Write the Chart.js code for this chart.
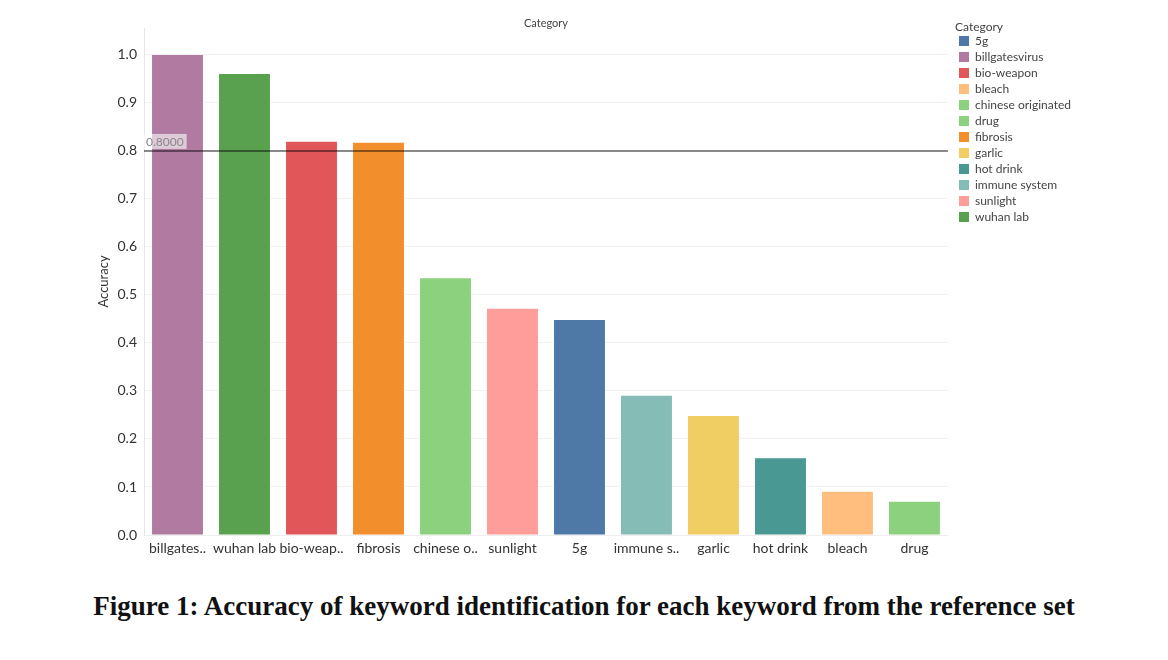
<!DOCTYPE html>
<html>
<head>
<meta charset="utf-8">
<script src="https://cdn.jsdelivr.net/npm/chart.js@4"></script>
<style>
  body { margin: 0; background: #fff; width: 1168px; height: 660px; position: relative; overflow: hidden; }
  #wrap { position: absolute; left: 0; top: 0; width: 1168px; height: 575px; }
  #caption { position: absolute; left: 0; width: 1168px; top: 591px; text-align: center;
    font-family: "Liberation Serif", serif; font-weight: bold; font-size: 27px; color: #111; line-height: 30px; }
</style>
</head>
<body>
<div id="wrap"><canvas id="chart" width="1168" height="575"></canvas></div>
<div id="caption">Figure 1: Accuracy of keyword identification for each keyword from the reference set</div>
<script>
const categories = ['billgatesvirus', 'wuhan lab', 'bio-weapon', 'fibrosis', 'chinese originated', 'sunlight', '5g', 'immune system', 'garlic', 'hot drink', 'bleach', 'drug'];
const tickLabels = ['billgates..', 'wuhan lab', 'bio-weap..', 'fibrosis', 'chinese o..', 'sunlight', '5g', 'immune s..', 'garlic', 'hot drink', 'bleach', 'drug'];
const accuracy = [1.0, 0.96, 0.819, 0.817, 0.535, 0.471, 0.448, 0.290, 0.248, 0.160, 0.090, 0.069];
const referenceValue = 0.8;

// legend order (alphabetical, like the source)
const legendNames = ['5g', 'billgatesvirus', 'bio-weapon', 'bleach', 'chinese originated', 'drug', 'fibrosis', 'garlic', 'hot drink', 'immune system', 'sunlight', 'wuhan lab'];
const palette = {
    '5g': '#4e79a7',
    'billgatesvirus': '#b07aa1',
    'bio-weapon': '#e15759',
    'bleach': '#ffbe7d',
    'chinese originated': '#8cd17d',
    'drug': '#8cd17d',
    'fibrosis': '#f28e2b',
    'garlic': '#f1ce63',
    'hot drink': '#499894',
    'immune system': '#86bcb6',
    'sunlight': '#ff9d9a',
    'wuhan lab': '#59a14f'
};

const FONT = 'Lato, "Noto Sans", sans-serif';

// reference line at 0.8 with its label box
const refLine = {
    id: 'refLine',
    afterDatasetsDraw(chart) {
        const { ctx, chartArea } = chart;
        const y = chart.scales.y.getPixelForValue(referenceValue);
        ctx.save();
        ctx.strokeStyle = 'rgba(0,0,0,0.45)';
        ctx.lineWidth = 2;
        ctx.beginPath();
        ctx.moveTo(chartArea.left, y);
        ctx.lineTo(chartArea.right, y);
        ctx.stroke();
        ctx.font = '12px ' + FONT;
        const txt = referenceValue.toFixed(4);
        const w = ctx.measureText(txt).width;
        ctx.fillStyle = 'rgba(255,255,255,0.6)';
        ctx.fillRect(chartArea.left, y - 17, w + 5, 15);
        ctx.fillStyle = '#888';
        ctx.textBaseline = 'middle';
        ctx.fillText(txt, chartArea.left + 2, y - 9);
        ctx.restore();
    }
};

new Chart(document.getElementById('chart').getContext('2d'), {
    type: 'bar',
    data: {
        labels: tickLabels,
        datasets: [{
            label: 'Accuracy',
            data: accuracy,
            backgroundColor: categories.map(c => palette[c]),
            barPercentage: 0.76,
            categoryPercentage: 1.0
        }]
    },
    options: {
        responsive: false,
        animation: false,
        layout: { padding: { left: 96, right: 87, top: 17, bottom: 10 } },
        scales: {
            x: {
                grid: { display: false, drawTicks: false, tickLength: 0 },
                border: { color: '#eeeeee' },
                ticks: { color: '#333', font: { family: FONT, size: 14 }, padding: 5, maxRotation: 0, autoSkip: false },
                afterFit(scale) { scale.height = 30; }
            },
            xTop: {
                type: 'category',
                position: 'top',
                labels: tickLabels,
                grid: { display: false, drawTicks: false, tickLength: 0 },
                border: { display: false },
                ticks: { display: false },
                title: { display: true, text: 'Category', color: '#444', font: { family: FONT, size: 11 }, padding: { top: 0, bottom: 0 } },
                afterFit(scale) { scale.height = 11; }
            },
            y: {
                min: 0,
                max: 1.056,
                ticks: { stepSize: 0.1, includeBounds: false, color: '#333', font: { family: FONT, size: 14 }, padding: 7,
                    callback: v => v.toFixed(1) },
                grid: { color: '#f2f2f2', drawTicks: false },
                border: { color: '#e6e6e6' },
                title: { display: true, text: 'Accuracy', color: '#333', font: { family: FONT, size: 13 }, padding: 0 },
                afterFit(scale) { scale.width = 48; }
            },
            // empty spacer between the plot and the legend
            ySpacer: {
                type: 'linear',
                position: 'right',
                grid: { display: false, drawTicks: false },
                border: { display: false },
                ticks: { display: false },
                afterFit(scale) { scale.width = 7; }
            }
        },
        plugins: {
            tooltip: { enabled: false },
            legend: {
                position: 'right',
                align: 'start',
                title: { display: true, position: 'start', text: 'Category', color: '#444',
                    font: { family: FONT, size: 12, lineHeight: 1 }, padding: { top: 4, bottom: -2 } },
                labels: {
                    boxWidth: 10,
                    boxHeight: 10,
                    padding: 4,
                    color: '#555',
                    font: { family: FONT, size: 12 },
                    generateLabels: () => legendNames.map(n => ({
                        text: n, fillStyle: palette[n], strokeStyle: palette[n], lineWidth: 0, hidden: false
                    }))
                }
            }
        }
    },
    plugins: [refLine]
});
</script>
</body>
</html>
